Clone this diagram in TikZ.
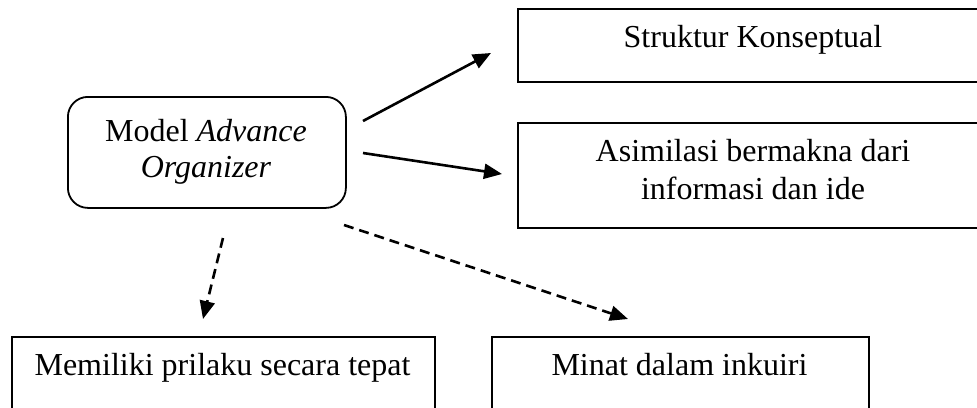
\documentclass[tikz,border=0pt]{standalone}
\usepackage{fontspec}
\setmainfont{Liberation Serif}
\usetikzlibrary{arrows.meta}
\begin{document}
\begin{tikzpicture}[x=1pt,y=-1pt,
  boxstyle/.style={draw=black,line width=1.8pt,rectangle,inner sep=0pt,anchor=north west},
  roundbox/.style={draw=black,line width=1.8pt,rectangle,rounded corners=20pt,inner sep=0pt,anchor=north west},
  txt/.style={anchor=base,inner sep=0pt,font=\fontsize{32}{37}\selectfont},
  arr/.style={line width=2.6pt,-{Triangle[length=18pt,width=15pt]}},
  darr/.style={arr,dash pattern=on 10pt off 6pt}]
\useasboundingbox (0,0) rectangle (977,407);
% boxes
\node[roundbox,minimum width=278pt,minimum height=111pt] (model) at (67,96) {};
\node[boxstyle,minimum width=480pt,minimum height=73pt] (struk) at (517,8) {};
\node[boxstyle,minimum width=480pt,minimum height=105pt] (asim) at (517,122) {};
\node[boxstyle,minimum width=423pt,minimum height=100pt] (mem) at (11,336) {};
\node[boxstyle,minimum width=377pt,minimum height=100pt] (minat) at (491,336) {};
% texts
\node[txt] (t1) at (206,141) {Model \textit{Advance}};
\node[txt] (t2) at (206,177) {\textit{Organizer}};
\node[txt] (t3) at (753,47) {Struktur Konseptual};
\node[txt] (t4) at (753,161) {Asimilasi bermakna dari};
\node[txt] (t5) at (753,199) {informasi dan ide};
\node[txt] (t6) at (222.5,375) {Memiliki prilaku secara tepat};
\node[txt] (t7) at (679.5,375) {Minat dalam inkuiri};
% arrow endpoints
\coordinate (a1s) at (363,121);
\coordinate (a1e) at (491,53);
\coordinate (a2s) at (363,153);
\coordinate (a2e) at (502,174);
\coordinate (d1s) at (223,238);
\coordinate (d1e) at (203,319);
\coordinate (d2s) at (344,225);
\coordinate (d2e) at (628,319);
\draw[arr] (a1s) -- (a1e);
\draw[arr] (a2s) -- (a2e);
\draw[darr] (d1s) -- (d1e);
\draw[darr] (d2s) -- (d2e);
\end{tikzpicture}
\end{document}
